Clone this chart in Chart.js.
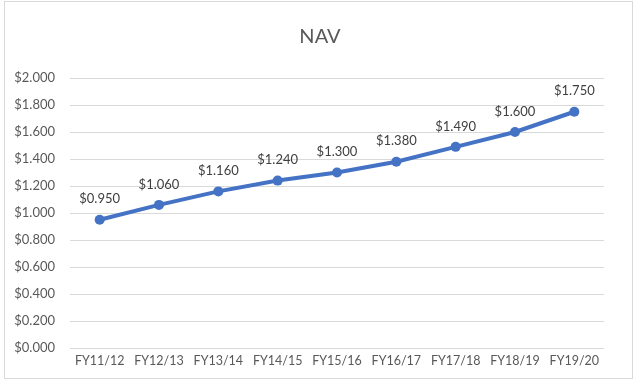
<!DOCTYPE html>
<html>
<head>
<meta charset="utf-8">
<script src="https://cdn.jsdelivr.net/npm/chart.js@4/dist/chart.umd.min.js"></script>
<style>
  body { margin: 0; background: #fff; }
  #wrap { position: relative; width: 640px; height: 386px; }
  #frame { position: absolute; left: 4px; top: 1px; width: 627px; height: 376px; border: 1px solid #d9d9d9; pointer-events: none; }
  canvas { position: absolute; left: 0; top: 0; }
</style>
</head>
<body>
<div id="wrap">
  <canvas id="nav__chart" width="640" height="386"></canvas>
  <div id="frame"></div>
</div>
<script>
var years = ['FY11/12', 'FY12/13', 'FY13/14', 'FY14/15', 'FY15/16', 'FY16/17', 'FY17/18', 'FY18/19', 'FY19/20'];
var navValues = [0.950, 1.060, 1.160, 1.240, 1.300, 1.380, 1.490, 1.600, 1.750];
var yMin = 0;
var yMax = 2.0;
var yStep = 0.2;

function money(v) {
    return '$' + v.toFixed(3);
}

// draws the value above each point, like the excel data labels
var pointLabels = {
    id: 'pointLabels',
    afterDatasetsDraw: function (chart) {
        var c = chart.ctx;
        var meta = chart.getDatasetMeta(0);
        c.save();
        c.font = '13px Lato';
        c.fillStyle = '#404040';
        c.textAlign = 'center';
        c.textBaseline = 'bottom';
        meta.data.forEach(function (pt, i) {
            c.fillText(money(navValues[i]), pt.x, pt.y - 14);
        });
        c.restore();
    }
};

var ctx = document.getElementById('nav__chart').getContext('2d');
var navChart = new Chart(ctx, {
    type: 'line',
    data: {
        labels: years,
        datasets: [{
            data: navValues,
            borderColor: '#4472C4',
            backgroundColor: '#4472C4',
            borderWidth: 4,
            pointRadius: 5,
            pointBorderWidth: 0,
            tension: 0
        }]
    },
    plugins: [pointLabels],
    options: {
        responsive: false,
        animation: false,
        layout: {
            padding: { left: 0, right: 0, top: 0, bottom: 13 }
        },
        plugins: {
            legend: { display: false },
            tooltip: { enabled: false },
            title: {
                display: true,
                text: 'NAV',
                color: '#595959',
                font: { family: 'Lato', size: 20, weight: 'normal' },
                padding: { top: 25, bottom: 29 }
            }
        },
        scales: {
            x: {
                offset: true,
                grid: { display: false, drawTicks: false },
                border: { display: false },
                ticks: {
                    color: '#595959',
                    font: { family: 'Lato', size: 12.5 },
                    padding: 5,
                    maxRotation: 0,
                    autoSkip: false
                }
            },
            y: {
                min: yMin,
                max: yMax,
                afterFit: function (scale) { scale.width = 70; },
                grid: { color: '#d9d9d9', drawTicks: false },
                border: { display: false },
                ticks: {
                    stepSize: yStep,
                    color: '#595959',
                    font: { family: 'Lato', size: 13 },
                    padding: 15,
                    callback: function (v) { return money(v); }
                }
            },
            // empty right axis, only keeps the plot clear of the right edge
            yRight: {
                position: 'right',
                min: yMin,
                max: yMax,
                afterFit: function (scale) { scale.width = 36; },
                grid: { display: false, drawTicks: false },
                border: { display: false },
                ticks: { display: false }
            }
        }
    }
});
</script>
</body>
</html>
